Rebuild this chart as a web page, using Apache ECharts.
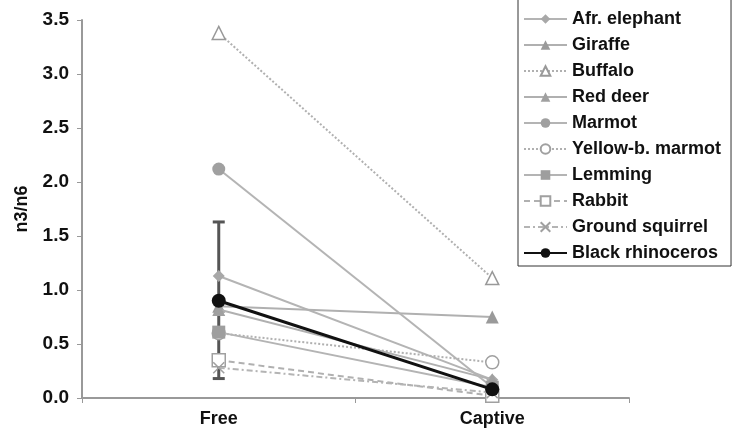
<!DOCTYPE html>
<html>
<head>
<meta charset="utf-8">
<script src="https://cdn.jsdelivr.net/npm/echarts@6/dist/echarts.min.js"></script>
<style>
html,body{margin:0;padding:0;background:#fff;}
#chart{width:738px;height:432px;}
</style>
</head>
<body>
<div id="chart"></div>
<script>
var categories = ['Free', 'Captive'];
var seriesNames = ['Afr. elephant', 'Giraffe', 'Buffalo', 'Red deer', 'Marmot', 'Yellow-b. marmot', 'Lemming', 'Rabbit', 'Ground squirrel', 'Black rhinoceros'];
var freeValues    = [1.13, 0.85, 3.38, 0.82, 2.12, 0.60, 0.61, 0.35, 0.28, 0.90];
var captiveValues = [0.17, 0.75, 1.11, 0.17, 0.10, 0.33, 0.10, 0.02, 0.05, 0.08];
var rhinoErrorLow = [0.18];
var rhinoErrorHigh = [1.63];
var yTicks = [0, 0.5, 1.0, 1.5, 2.0, 2.5, 3.0, 3.5];

var styles = [
  {line:'solid', lc:'#b4b4b4', sym:'diamond', size:12, fill:'#a8a8a8', stroke:'#a8a8a8'},
  {line:'solid', lc:'#b0b0b0', sym:'triangle', size:13, fill:'#9a9a9a', stroke:'#9a9a9a'},
  {line:'dotted', lc:'#b0b0b0', sym:'emptyTriangle', size:13, fill:'#fff', stroke:'#999'},
  {line:'solid', lc:'#b0b0b0', sym:'triangle', size:13, fill:'#a0a0a0', stroke:'#a0a0a0'},
  {line:'solid', lc:'#b4b4b4', sym:'circle', size:13, fill:'#a0a0a0', stroke:'#a0a0a0'},
  {line:'dotted', lc:'#b0b0b0', sym:'emptyCircle', size:13, fill:'#fff', stroke:'#a0a0a0'},
  {line:'solid', lc:'#b4b4b4', sym:'rect', size:13, fill:'#9e9e9e', stroke:'#9e9e9e'},
  {line:[6,4], lc:'#b0b0b0', sym:'emptyRect', size:13, fill:'#fff', stroke:'#a0a0a0'},
  {line:[6,3,2,3], lc:'#b4b4b4', sym:'path://M0,0L10,10M10,0L0,10', size:11, fill:'none', stroke:'#a0a0a0'},
  {line:'solid', lc:'#111', sym:'circle', size:14, fill:'#111', stroke:'#111'}
];

var series = [];
series.push({
  type:'custom', name:'err', z:1, silent:true,
  data: rhinoErrorLow.map(function(v,i){return [i, v, rhinoErrorHigh[i]];}),
  renderItem: function(params, api){
    var lo = api.coord([api.value(0), api.value(1)]);
    var hi = api.coord([api.value(0), api.value(2)]);
    var w = 6;
    var st = {stroke:'#555', lineWidth:3};
    return {type:'group', children:[
      {type:'line', shape:{x1:lo[0], y1:lo[1], x2:hi[0], y2:hi[1]}, style:st},
      {type:'line', shape:{x1:lo[0]-w, y1:lo[1], x2:lo[0]+w, y2:lo[1]}, style:st},
      {type:'line', shape:{x1:hi[0]-w, y1:hi[1], x2:hi[0]+w, y2:hi[1]}, style:st}
    ]};
  }
});
seriesNames.forEach(function(n, i){
  var s = styles[i];
  var sym = s.sym.replace('empty','').toLowerCase();
  if (s.sym.indexOf('path://')===0) sym = s.sym;
  series.push({
    type:'line', name:n, z: 2 + i,
    data:[freeValues[i], captiveValues[i]],
    symbol: sym, symbolSize: s.size, showSymbol:true,
    lineStyle:{color:s.lc, width: i===9 ? 3 : 2, type:s.line},
    itemStyle:{color:s.fill, borderColor:s.stroke, borderWidth: (s.fill==='#fff'||s.fill==='none') ? 1.5 : 0},
    emphasis:{disabled:true},
    animation:false
  });
});

var chart = echarts.init(document.getElementById('chart'), null, {renderer:'canvas'});
chart.setOption({
  animation:false,
  backgroundColor:'#fff',
  grid:{left:82, right:109, top:20, bottom:34, containLabel:false, outerBoundsMode:'none'},
  legend:{
    data: seriesNames,
    orient:'vertical', left:518, top:-1,
    padding:[11,10,4,5],
    itemWidth:43, itemHeight:12, itemGap:8,
    borderColor:'#333', borderWidth:1,
    textStyle:{fontFamily:'Liberation Sans, Arial, sans-serif', fontWeight:'bold', fontSize:18, color:'#111', lineHeight:18},
    selectedMode:false
  },
  xAxis:{
    type:'category', data:categories, boundaryGap:true,
    axisLine:{lineStyle:{color:'#999', width:2}},
    axisTick:{show:true, length:5, lineStyle:{color:'#999', width:1}},
    axisLabel:{margin:12, fontFamily:'Liberation Sans, Arial, sans-serif', fontWeight:'bold', fontSize:18, color:'#111'}
  },
  yAxis:{
    type:'value', min:0, max:3.5, interval:0.5,
    name:'n3/n6', nameLocation:'middle', nameGap:51, nameRotate:90,
    nameTextStyle:{fontFamily:'Liberation Sans, Arial, sans-serif', fontWeight:'bold', fontSize:18, color:'#111'},
    axisLine:{show:true, lineStyle:{color:'#999', width:2}},
    axisTick:{show:true, length:5, lineStyle:{color:'#999', width:1}},
    splitLine:{show:false},
    axisLabel:{margin:13, fontFamily:'Liberation Sans, Arial, sans-serif', fontWeight:'bold', fontSize:19, color:'#111',
      formatter:function(v){ var t = yTicks.filter(function(x){return Math.abs(x-v)<1e-9;}); return (t.length? t[0] : v).toFixed(1); }}
  },
  series: series
});
</script>
</body>
</html>
